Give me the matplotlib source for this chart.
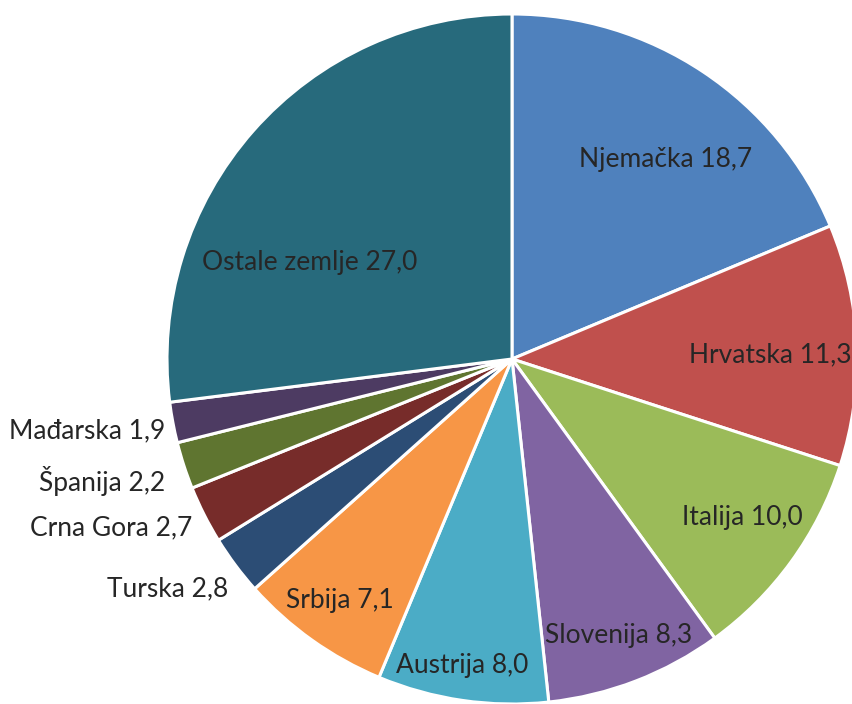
"""Pie chart: share by country (%)"""

import matplotlib.pyplot as plt
import numpy as np

countries = ['Njemačka', 'Hrvatska', 'Italija', 'Slovenija', 'Austrija', 'Srbija',
             'Turska', 'Crna Gora', 'Španija', 'Mađarska', 'Ostale zemlje']
shares = [18.7, 11.3, 10.0, 8.3, 8.0, 7.1, 2.8, 2.7, 2.2, 1.9, 27.0]

colors = ['#4F81BD', '#C0504D', '#9BBB59', '#8064A2', '#4BACC6', '#F79646',
          '#2C4D75', '#772C2A', '#5F7530', '#4D3B62', '#276A7C']

# label placement: radial distance (pie radius = 1) and angle shift in degrees
label_r = [0.73, 0.75, 0.81, 0.86, 0.90, 0.86, 1.20, 1.26, 1.24, 1.25, 0.65]
label_shift = [-4, -1.5, 1.5, 0, -1, 0, -3, -4, -1.5, -1, 16]

plt.rcParams['font.family'] = ['Lato', 'DejaVu Sans']

W, H = 852, 704
cx, cy, rad = 512, 359, 345  # pie centre and radius in pixels

fig = plt.figure(figsize=(W / 100, H / 100), dpi=100)
ax = fig.add_axes([0, 0, 1, 1])

wedges, _ = ax.pie(shares, colors=colors, startangle=90, counterclock=False,
                   wedgeprops=dict(edgecolor='white', linewidth=2.2))

ax.set_xlim(-cx / rad, (W - cx) / rad)
ax.set_ylim(-(H - cy) / rad, cy / rad)
ax.set_aspect('equal')
ax.axis('off')

for w, name, val, r, sh in zip(wedges, countries, shares, label_r, label_shift):
    ang = np.deg2rad((w.theta1 + w.theta2) / 2 + sh)
    ax.text(r * np.cos(ang), r * np.sin(ang), f'{name} {val:.1f}'.replace('.', ','),
            ha='center', va='center', fontsize=19, color='#262626')

fig.savefig('out.png', dpi=100)
